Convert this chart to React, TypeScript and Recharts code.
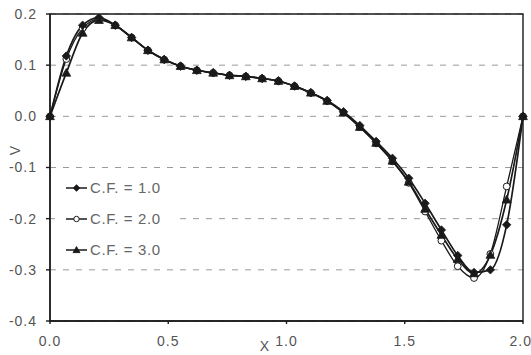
import {
  LineChart,
  Line,
  XAxis,
  YAxis,
  CartesianGrid,
  ReferenceArea,
  Legend,
  Label,
} from "recharts"

// x positions along the profile (30 stations)
const X_VALUES = [
  0, 0.069, 0.138, 0.207, 0.276, 0.345, 0.414, 0.483, 0.552, 0.621,
  0.69, 0.759, 0.828, 0.897, 0.966, 1.034, 1.103, 1.172, 1.241, 1.31,
  1.379, 1.448, 1.517, 1.586, 1.655, 1.724, 1.793, 1.862, 1.931, 2.0,
]

const CF1 = [
  0, 0.118, 0.178, 0.193, 0.178, 0.154, 0.129, 0.111, 0.098, 0.09,
  0.085, 0.08, 0.078, 0.074, 0.069, 0.059, 0.046, 0.031, 0.009, -0.018,
  -0.049, -0.082, -0.121, -0.17, -0.222, -0.272, -0.305, -0.3, -0.212, 0,
]

const CF2 = [
  0, 0.112, 0.172, 0.19, 0.178, 0.154, 0.129, 0.111, 0.098, 0.09,
  0.085, 0.08, 0.078, 0.074, 0.069, 0.059, 0.046, 0.03, 0.007, -0.021,
  -0.053, -0.088, -0.13, -0.186, -0.243, -0.293, -0.316, -0.269, -0.137, 0,
]

const CF3 = [
  0, 0.085, 0.163, 0.188, 0.178, 0.154, 0.129, 0.111, 0.098, 0.09,
  0.085, 0.08, 0.078, 0.074, 0.069, 0.059, 0.046, 0.03, 0.007, -0.021,
  -0.052, -0.087, -0.128, -0.181, -0.232, -0.279, -0.307, -0.271, -0.163, 0,
]

const X_TICKS = [0, 0.5, 1.0, 1.5, 2.0]
const Y_TICKS = [-0.4, -0.3, -0.2, -0.1, 0, 0.1, 0.2]

const SERIES = [
  { key: "cf1", label: "C.F. = 1.0", marker: "diamond" },
  { key: "cf2", label: "C.F. = 2.0", marker: "circle" },
  { key: "cf3", label: "C.F. = 3.0", marker: "triangle" },
] as const

const INK = "#1a1a1a"
const TEXT = "#555"
const FONT = "Arial, 'Liberation Sans', sans-serif"

const data = X_VALUES.map((x, i) => ({ x, cf1: CF1[i], cf2: CF2[i], cf3: CF3[i] }))

type Marker = "diamond" | "circle" | "triangle"

function MarkerShape({ kind, cx, cy, s = 1 }: { kind: Marker; cx: number; cy: number; s?: number }) {
  if (kind === "diamond") {
    const r = 4.2 * s
    return (
      <path
        d={`M${cx},${cy - r}L${cx + r},${cy}L${cx},${cy + r}L${cx - r},${cy}Z`}
        fill={INK}
        stroke={INK}
        strokeWidth={0.8}
      />
    )
  }
  if (kind === "circle") {
    return <circle cx={cx} cy={cy} r={3.4 * s} fill="#fff" stroke={INK} strokeWidth={1} />
  }
  const r = 4.4 * s
  return (
    <path
      d={`M${cx},${cy - r}L${cx + r},${cy + r * 0.75}L${cx - r},${cy + r * 0.75}Z`}
      fill={INK}
      stroke={INK}
      strokeWidth={0.8}
    />
  )
}

const dotFor = (kind: Marker) => (props: any) => {
  const { cx, cy, index } = props
  if (cx == null || cy == null) return <g key={index} />
  return (
    <g key={`${kind}-${index}`}>
      <MarkerShape kind={kind} cx={cx} cy={cy} />
    </g>
  )
}

function InlineLegend() {
  return (
    <div style={{ background: "#fff", padding: "4px 6px 4px 10px" }}>
      {SERIES.map((s) => (
        <div
          key={s.key}
          style={{ display: "flex", alignItems: "center", height: 31 }}
        >
          <svg width={23} height={12} style={{ marginRight: 2 }}>
            <line x1={1} y1={6} x2={22} y2={6} stroke={INK} strokeWidth={1.5} />
            <MarkerShape kind={s.marker} cx={11.5} cy={6} s={0.8} />
          </svg>
          <span
            style={{
              fontSize: 15,
              fontFamily: FONT,
              color: "#666",
              letterSpacing: "0.6px",
            }}
          >
            {s.label}
          </span>
        </div>
      ))}
    </div>
  )
}

export default function App() {
  const fmt = (v: number) => v.toFixed(1)
  return (
    <div style={{ position: "fixed", left: 0, top: 0, background: "#fff" }}>
      <LineChart
        width={531}
        height={355}
        data={data}
        margin={{ top: 14, right: 8, bottom: 0, left: 8 }}
      >
        <CartesianGrid
          horizontal
          vertical={false}
          stroke="#9a9a9a"
          strokeDasharray="6 7"
        />
        <XAxis
          type="number"
          dataKey="x"
          domain={[0, 2]}
          ticks={X_TICKS}
          tickFormatter={fmt}
          height={34}
          tickSize={3}
          tickMargin={12}
          stroke={INK}
          strokeWidth={1.4}
          tick={{ fill: TEXT, fontSize: 14, fontFamily: FONT, letterSpacing: 1 }}
        >
          <Label
            value="X"
            position="insideBottom"
            offset={4}
            dx={-22}
            style={{ fill: TEXT, fontSize: 14, fontFamily: FONT }}
          />
        </XAxis>
        <YAxis
          type="number"
          domain={[-0.4, 0.2]}
          ticks={Y_TICKS}
          tickFormatter={fmt}
          width={42}
          tickSize={4}
          tickMargin={9}
          stroke={INK}
          strokeWidth={1.4}
          allowDataOverflow
          tick={{ fill: TEXT, fontSize: 14, fontFamily: FONT, letterSpacing: 1 }}
        >
          <Label
            value="V"
            angle={-90}
            position="insideLeft"
            offset={7}
            dy={-17}
            style={{ fill: TEXT, fontSize: 14, fontFamily: FONT, textAnchor: "middle" }}
          />
        </YAxis>
        <ReferenceArea
          x1={0}
          x2={2}
          y1={-0.4}
          y2={0.2}
          fill="none"
          stroke={INK}
          strokeWidth={1.4}
          ifOverflow="visible"
        />
        <Legend
          layout="vertical"
          align="center"
          verticalAlign="middle"
          content={<InlineLegend />}
          wrapperStyle={{ left: 55, top: 168, width: 118 }}
        />
        <Line
          dataKey="cf2"
          type="monotone"
          stroke={INK}
          strokeWidth={1.3}
          dot={dotFor("circle")}
          isAnimationActive={false}
        />
        <Line
          dataKey="cf3"
          type="monotone"
          stroke={INK}
          strokeWidth={1.7}
          dot={dotFor("triangle")}
          isAnimationActive={false}
        />
        <Line
          dataKey="cf1"
          type="monotone"
          stroke={INK}
          strokeWidth={1.7}
          dot={dotFor("diamond")}
          isAnimationActive={false}
        />
      </LineChart>
    </div>
  )
}
